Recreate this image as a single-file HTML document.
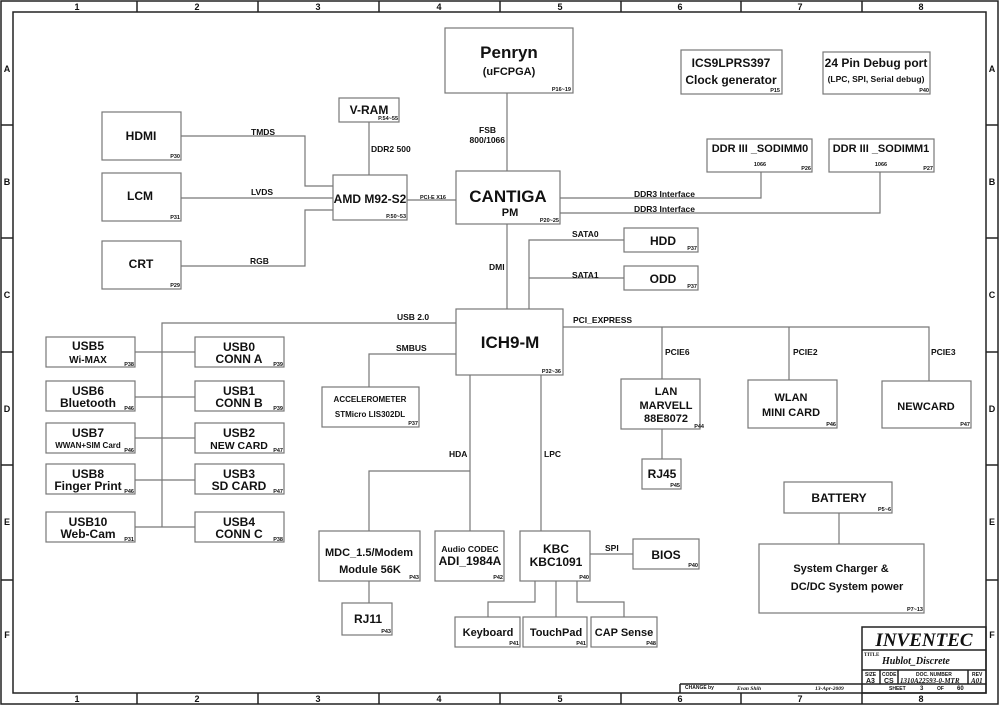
<!DOCTYPE html>
<html><head><meta charset="utf-8"><style>
html,body{margin:0;padding:0;background:#fff}
svg{display:block}
text{font-family:"Liberation Sans",Arial,sans-serif;font-weight:bold;fill:#111}
.b{fill:none;stroke:#777;stroke-width:1.2}
.l{fill:none;stroke:#777;stroke-width:1.2}
.f{fill:none;stroke:#222;stroke-width:1.5}
.g{font-weight:normal;fill:#666;font-size:9px}
.p{font-size:5.5px;text-anchor:end}
.c{text-anchor:middle}
.s{font-family:"Liberation Serif",serif}
</style></head><body>
<svg width="1000" height="705" viewBox="0 0 1000 705" xmlns="http://www.w3.org/2000/svg">
<!-- frame -->
<rect x="1" y="1" width="997" height="703" class="f" stroke-width="1"/>
<rect x="13" y="12" width="973" height="681" class="f"/>
<g class="f">
<line x1="137" y1="1" x2="137" y2="12"/><line x1="258" y1="1" x2="258" y2="12"/><line x1="379" y1="1" x2="379" y2="12"/><line x1="500" y1="1" x2="500" y2="12"/><line x1="621" y1="1" x2="621" y2="12"/><line x1="741" y1="1" x2="741" y2="12"/><line x1="862" y1="1" x2="862" y2="12"/>
<line x1="137" y1="693" x2="137" y2="704"/><line x1="258" y1="693" x2="258" y2="704"/><line x1="379" y1="693" x2="379" y2="704"/><line x1="500" y1="693" x2="500" y2="704"/><line x1="621" y1="693" x2="621" y2="704"/><line x1="741" y1="693" x2="741" y2="704"/><line x1="862" y1="693" x2="862" y2="704"/>
<line x1="1" y1="125" x2="13" y2="125"/><line x1="1" y1="238" x2="13" y2="238"/><line x1="1" y1="352" x2="13" y2="352"/><line x1="1" y1="465" x2="13" y2="465"/><line x1="1" y1="580" x2="13" y2="580"/>
<line x1="986" y1="125" x2="998" y2="125"/><line x1="986" y1="238" x2="998" y2="238"/><line x1="986" y1="352" x2="998" y2="352"/><line x1="986" y1="465" x2="998" y2="465"/><line x1="986" y1="580" x2="998" y2="580"/>
</g>
<g class="g c">
<text x="77" y="10">1</text><text x="197" y="10">2</text><text x="318" y="10">3</text><text x="439" y="10">4</text><text x="560" y="10">5</text><text x="680" y="10">6</text><text x="800" y="10">7</text><text x="921" y="10">8</text>
<text x="77" y="702">1</text><text x="197" y="702">2</text><text x="318" y="702">3</text><text x="439" y="702">4</text><text x="560" y="702">5</text><text x="680" y="702">6</text><text x="800" y="702">7</text><text x="921" y="702">8</text>
<text x="7" y="72">A</text><text x="7" y="185">B</text><text x="7" y="298">C</text><text x="7" y="412">D</text><text x="7" y="525">E</text><text x="7" y="638">F</text>
<text x="992" y="72">A</text><text x="992" y="185">B</text><text x="992" y="298">C</text><text x="992" y="412">D</text><text x="992" y="525">E</text><text x="992" y="638">F</text>
</g>

<!-- connectors -->
<g class="l">
<polyline points="507,93 507,171"/>
<polyline points="369,122 369,175"/>
<polyline points="181,136 305,136 305,186 333,186"/>
<polyline points="181,198 333,198"/>
<polyline points="181,266 305,266 305,210 333,210"/>
<polyline points="407,200 456,200"/>
<polyline points="560,198 761,198 761,172"/>
<polyline points="560,213 880,213 880,172"/>
<polyline points="507,224 507,309"/>
<polyline points="529,309 529,240 624,240"/>
<polyline points="529,278 624,278"/>
<polyline points="456,323 162,323 162,527"/>
<polyline points="135,352 195,352"/><polyline points="135,397 195,397"/><polyline points="135,438 195,438"/><polyline points="135,480 195,480"/><polyline points="135,527 195,527"/>
<polyline points="456,354 369,354 369,387"/>
<polyline points="563,327 929,327 929,381"/>
<polyline points="662,327 662,379"/><polyline points="789,327 789,380"/>
<polyline points="662,429 662,459"/>
<polyline points="470,375 470,531"/>
<polyline points="470,471 369,471 369,531"/>
<polyline points="541,375 541,531"/>
<polyline points="590,554 633,554"/>
<polyline points="535,581 535,602 488,602 488,617"/>
<polyline points="556,581 556,617"/>
<polyline points="577,581 577,602 624,602 624,617"/>
<polyline points="369,581 369,603"/>
<polyline points="839,513 839,544"/>
</g>

<!-- boxes -->
<g class="b">
<rect x="445" y="28" width="128" height="65"/>
<rect x="681" y="50" width="101" height="44"/>
<rect x="823" y="52" width="107" height="42"/>
<rect x="339" y="98" width="60" height="24"/>
<rect x="102" y="112" width="79" height="48"/>
<rect x="102" y="173" width="79" height="48"/>
<rect x="102" y="241" width="79" height="48"/>
<rect x="333" y="175" width="74" height="45"/>
<rect x="456" y="171" width="104" height="53"/>
<rect x="707" y="139" width="105" height="33"/>
<rect x="829" y="139" width="105" height="33"/>
<rect x="624" y="228" width="74" height="24"/>
<rect x="624" y="266" width="74" height="24"/>
<rect x="456" y="309" width="107" height="66"/>
<rect x="46" y="337" width="89" height="30"/><rect x="46" y="381" width="89" height="30"/><rect x="46" y="423" width="89" height="30"/><rect x="46" y="464" width="89" height="30"/><rect x="46" y="512" width="89" height="30"/>
<rect x="195" y="337" width="89" height="30"/><rect x="195" y="381" width="89" height="30"/><rect x="195" y="423" width="89" height="30"/><rect x="195" y="464" width="89" height="30"/><rect x="195" y="512" width="89" height="30"/>
<rect x="322" y="387" width="97" height="40"/>
<rect x="621" y="379" width="79" height="50"/>
<rect x="748" y="380" width="89" height="48"/>
<rect x="882" y="381" width="89" height="47"/>
<rect x="642" y="459" width="39" height="30"/>
<rect x="784" y="482" width="108" height="31"/>
<rect x="759" y="544" width="165" height="69"/>
<rect x="319" y="531" width="101" height="50"/>
<rect x="435" y="531" width="69" height="50"/>
<rect x="520" y="531" width="70" height="50"/>
<rect x="633" y="539" width="66" height="30"/>
<rect x="342" y="603" width="50" height="32"/>
<rect x="455" y="617" width="65" height="30"/>
<rect x="523" y="617" width="64" height="30"/>
<rect x="591" y="617" width="66" height="30"/>
</g>

<!-- box labels -->
<g class="c">
<text x="509" y="58" font-size="17">Penryn</text>
<text x="509" y="75" font-size="11">(uFCPGA)</text>
<text x="731" y="67" font-size="12">ICS9LPRS397</text>
<text x="731" y="84" font-size="12">Clock generator</text>
<text x="876" y="67" font-size="12">24 Pin Debug port</text>
<text x="876" y="82" font-size="8.5">(LPC, SPI, Serial debug)</text>
<text x="369" y="114" font-size="12">V-RAM</text>
<text x="141" y="140" font-size="12">HDMI</text>
<text x="140" y="200" font-size="12">LCM</text>
<text x="141" y="268" font-size="12">CRT</text>
<text x="370" y="203" font-size="12">AMD M92-S2</text>
<text x="508" y="202" font-size="17">CANTIGA</text>
<text x="510" y="216" font-size="11">PM</text>
<text x="760" y="152" font-size="11">DDR III _SODIMM0</text>
<text x="881" y="152" font-size="11">DDR III _SODIMM1</text>
<text x="760" y="166" font-size="5.5">1066</text>
<text x="881" y="166" font-size="5.5">1066</text>
<text x="663" y="245" font-size="12">HDD</text>
<text x="663" y="283" font-size="12">ODD</text>
<text x="510" y="348" font-size="17">ICH9-M</text>
<text x="88" y="350" font-size="12">USB5</text><text x="88" y="363" font-size="10">Wi-MAX</text>
<text x="88" y="395" font-size="12">USB6</text><text x="88" y="407" font-size="12">Bluetooth</text>
<text x="88" y="437" font-size="12">USB7</text><text x="88" y="448" font-size="8">WWAN+SIM Card</text>
<text x="88" y="478" font-size="12">USB8</text><text x="88" y="490" font-size="12">Finger Print</text>
<text x="88" y="526" font-size="12">USB10</text><text x="88" y="538" font-size="12">Web-Cam</text>
<text x="239" y="351" font-size="12">USB0</text><text x="239" y="363" font-size="12">CONN A</text>
<text x="239" y="395" font-size="12">USB1</text><text x="239" y="407" font-size="12">CONN B</text>
<text x="239" y="437" font-size="12">USB2</text><text x="239" y="449" font-size="10.5">NEW CARD</text>
<text x="239" y="478" font-size="12">USB3</text><text x="239" y="490" font-size="12">SD CARD</text>
<text x="239" y="526" font-size="12">USB4</text><text x="239" y="538" font-size="12">CONN C</text>
<text x="370" y="402" font-size="8">ACCELEROMETER</text>
<text x="370" y="417" font-size="8">STMicro LIS302DL</text>
<text x="666" y="395" font-size="11">LAN</text>
<text x="666" y="409" font-size="11">MARVELL</text>
<text x="666" y="422" font-size="11">88E8072</text>
<text x="791" y="401" font-size="11">WLAN</text>
<text x="791" y="416" font-size="11">MINI CARD</text>
<text x="926" y="410" font-size="11">NEWCARD</text>
<text x="662" y="478" font-size="12">RJ45</text>
<text x="839" y="502" font-size="12">BATTERY</text>
<text x="841" y="572" font-size="11">System Charger &amp;</text>
<text x="847" y="590" font-size="11">DC/DC System power</text>
<text x="369" y="556" font-size="11">MDC_1.5/Modem</text>
<text x="370" y="573" font-size="11">Module 56K</text>
<text x="470" y="552" font-size="8.5">Audio CODEC</text>
<text x="470" y="565" font-size="12">ADI_1984A</text>
<text x="556" y="553" font-size="12">KBC</text>
<text x="556" y="566" font-size="12">KBC1091</text>
<text x="666" y="559" font-size="12">BIOS</text>
<text x="368" y="623" font-size="12">RJ11</text>
<text x="488" y="636" font-size="11">Keyboard</text>
<text x="556" y="636" font-size="11">TouchPad</text>
<text x="624" y="636" font-size="11">CAP Sense</text>
</g>

<!-- page refs -->
<g class="p">
<text x="571" y="91">P16~19</text><text x="780" y="92">P15</text><text x="929" y="92">P40</text>
<text x="398" y="120">P.54~55</text><text x="180" y="158">P30</text><text x="180" y="219">P31</text><text x="180" y="287">P29</text>
<text x="406" y="218">P.50~53</text><text x="559" y="222">P20~25</text><text x="811" y="170">P26</text><text x="933" y="170">P27</text>
<text x="697" y="250">P37</text><text x="697" y="288">P37</text><text x="561" y="373">P32~36</text>
<text x="134" y="366">P38</text><text x="134" y="410">P46</text><text x="134" y="452">P46</text><text x="134" y="493">P46</text><text x="134" y="541">P31</text>
<text x="283" y="366">P39</text><text x="283" y="410">P39</text><text x="283" y="452">P47</text><text x="283" y="493">P47</text><text x="283" y="541">P38</text>
<text x="418" y="425">P37</text><text x="704" y="428">P44</text><text x="836" y="426">P46</text><text x="970" y="426">P47</text><text x="680" y="487">P45</text>
<text x="891" y="511">P5~6</text><text x="923" y="611">P7~13</text><text x="419" y="579">P43</text><text x="503" y="579">P42</text><text x="589" y="579">P40</text><text x="698" y="567">P40</text>
<text x="391" y="633">P43</text><text x="519" y="645">P41</text><text x="586" y="645">P41</text><text x="656" y="645">P48</text>
</g>

<!-- connector labels -->
<g font-size="8.5">
<text x="496" y="133" text-anchor="end">FSB</text>
<text x="505" y="143" text-anchor="end">800/1066</text>
<text x="371" y="152">DDR2  500</text>
<text x="251" y="135">TMDS</text>
<text x="251" y="195">LVDS</text>
<text x="250" y="264">RGB</text>
<text x="420" y="199" font-size="5.5">PCI-E X16</text>
<text x="634" y="197">DDR3 Interface</text>
<text x="634" y="212">DDR3 Interface</text>
<text x="572" y="237">SATA0</text>
<text x="572" y="278">SATA1</text>
<text x="489" y="270">DMI</text>
<text x="397" y="320">USB 2.0</text>
<text x="573" y="323">PCI_EXPRESS</text>
<text x="396" y="351">SMBUS</text>
<text x="665" y="355">PCIE6</text>
<text x="793" y="355">PCIE2</text>
<text x="931" y="355">PCIE3</text>
<text x="449" y="457">HDA</text>
<text x="544" y="457">LPC</text>
<text x="605" y="551">SPI</text>
</g>

<!-- title block -->
<g class="f" stroke-width="1">
<rect x="862" y="627" width="124" height="66"/>
<line x1="862" y1="650" x2="986" y2="650"/>
<line x1="862" y1="670" x2="986" y2="670"/>
<line x1="680" y1="684" x2="986" y2="684"/>
<line x1="680" y1="684" x2="680" y2="693"/>
<line x1="880" y1="670" x2="880" y2="684"/>
<line x1="898" y1="670" x2="898" y2="684"/>
<line x1="968" y1="670" x2="968" y2="684"/>
</g>
<text x="924" y="646" class="s c" font-size="19" font-style="italic">INVENTEC</text>
<text x="864" y="656" class="s" font-size="5" font-weight="normal">TITLE</text>
<text x="882" y="664" class="s" font-size="10" font-style="italic">Hublot_Discrete</text>
<g class="s" font-size="5" font-weight="normal"><text x="865" y="676">SIZE</text><text x="882" y="676">CODE</text><text x="916" y="676">DOC. NUMBER</text><text x="972" y="676">REV</text>
<text x="889" y="690">SHEET</text><text x="937" y="690">OF</text><text x="685" y="689">CHANGE by</text></g>
<text x="866" y="683" font-size="7">A3</text><text x="884" y="683" font-size="7">CS</text>
<text x="900" y="683" class="s" font-size="7" font-style="italic">1310A22593-0-MTR</text>
<text x="971" y="683" class="s" font-size="7" font-style="italic">A01</text>
<text x="920" y="690" font-size="6">3</text><text x="957" y="690" font-size="6">60</text>
<text x="737" y="690" class="s" font-size="5.5" font-style="italic">Evan Shih</text>
<text x="815" y="690" class="s" font-size="5.5" font-style="italic">13-Apr-2009</text>
</svg>
</body></html>
